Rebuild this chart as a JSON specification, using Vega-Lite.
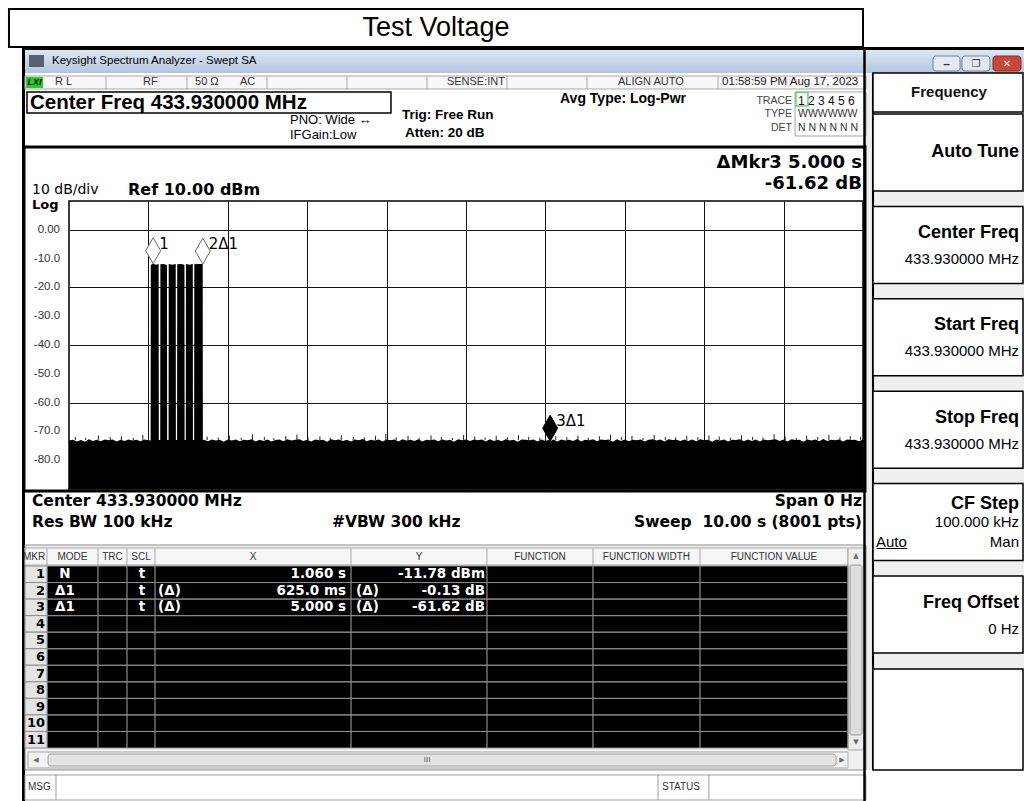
{
"$schema":"https://vega.github.io/schema/vega-lite/v6.json",
"width":794,"height":288,
"autosize":{"type":"none"},
"padding":{"left":69,"top":201,"right":161,"bottom":312},
"background":"white",
"config":{"font":"Liberation Sans","view":{"stroke":"black","strokeWidth":1.5},"axis":{"gridColor":"#111","gridOpacity":1,"gridWidth":1}},
"datasets":{
"one":[{}],
"yticks":[{"v":0,"label":"0.00"},{"v":-10,"label":"-10.0"},{"v":-20,"label":"-20.0"},{"v":-30,"label":"-30.0"},{"v":-40,"label":"-40.0"},{"v":-50,"label":"-50.0"},{"v":-60,"label":"-60.0"},{"v":-70,"label":"-70.0"},{"v":-80,"label":"-80.0"}],
"trace":[
{"t":0,"level":-73.2},{"t":0.05,"level":-72.9},{"t":0.1,"level":-73.5},{"t":0.15,"level":-73.0},{"t":0.2,"level":-73.6},{"t":0.25,"level":-72.7},{"t":0.3,"level":-73.3},{"t":0.35,"level":-72.9},{"t":0.4,"level":-73.4},{"t":0.45,"level":-72.8},{"t":0.5,"level":-73.1},{"t":0.55,"level":-72.8},{"t":0.6,"level":-73.5},{"t":0.65,"level":-72.9},{"t":0.7,"level":-73.3},{"t":0.75,"level":-72.8},{"t":0.8,"level":-73.2},{"t":0.85,"level":-72.9},{"t":0.9,"level":-73.4},{"t":0.95,"level":-72.8},{"t":1.0,"level":-73.1},
{"t":1.028,"level":-73.2},{"t":1.03,"level":-12.2},{"t":1.06,"level":-11.78},{"t":1.095,"level":-12.1},{"t":1.129,"level":-11.9},{"t":1.131,"level":-73.0},{"t":1.149,"level":-73.0},{"t":1.151,"level":-12.0},{"t":1.19,"level":-11.9},{"t":1.234,"level":-12.2},{"t":1.236,"level":-73.0},{"t":1.254,"level":-73.0},{"t":1.256,"level":-11.9},{"t":1.3,"level":-12.1},{"t":1.344,"level":-11.9},{"t":1.346,"level":-73.0},{"t":1.361,"level":-73.0},{"t":1.363,"level":-12.0},{"t":1.41,"level":-11.9},{"t":1.454,"level":-12.1},{"t":1.456,"level":-73.0},{"t":1.471,"level":-73.0},{"t":1.473,"level":-11.9},{"t":1.52,"level":-12.1},{"t":1.559,"level":-11.9},{"t":1.561,"level":-73.0},{"t":1.576,"level":-73.0},{"t":1.578,"level":-12.0},{"t":1.63,"level":-11.9},{"t":1.684,"level":-11.91},{"t":1.686,"level":-73.1},
{"t":1.7,"level":-72.9},{"t":1.75,"level":-73.4},{"t":1.8,"level":-72.8},{"t":1.85,"level":-73.2},{"t":1.9,"level":-72.9},{"t":1.95,"level":-73.6},{"t":2.0,"level":-72.8},{"t":2.05,"level":-73.2},{"t":2.1,"level":-72.8},{"t":2.15,"level":-73.4},{"t":2.2,"level":-72.9},{"t":2.25,"level":-73.1},{"t":2.3,"level":-72.7},{"t":2.35,"level":-73.5},{"t":2.4,"level":-72.9},{"t":2.45,"level":-73.3},{"t":2.5,"level":-72.8},{"t":2.55,"level":-73.5},{"t":2.6,"level":-73.0},{"t":2.65,"level":-72.8},{"t":2.7,"level":-73.4},{"t":2.75,"level":-72.7},{"t":2.8,"level":-73.2},{"t":2.85,"level":-72.9},{"t":2.9,"level":-72.7},{"t":2.95,"level":-73.3},
{"t":3.0,"level":-72.9},{"t":3.05,"level":-73.5},{"t":3.1,"level":-72.8},{"t":3.15,"level":-73.1},{"t":3.2,"level":-72.9},{"t":3.25,"level":-73.6},{"t":3.3,"level":-72.7},{"t":3.35,"level":-73.1},{"t":3.4,"level":-72.8},{"t":3.45,"level":-73.3},{"t":3.5,"level":-72.9},{"t":3.55,"level":-73.5},{"t":3.6,"level":-72.8},{"t":3.65,"level":-73.1},{"t":3.7,"level":-72.6},{"t":3.75,"level":-73.4},{"t":3.8,"level":-72.9},{"t":3.85,"level":-73.2},{"t":3.9,"level":-72.8},{"t":3.95,"level":-73.5},
{"t":4.0,"level":-72.8},{"t":4.05,"level":-73.1},{"t":4.1,"level":-72.8},{"t":4.15,"level":-73.5},{"t":4.2,"level":-72.7},{"t":4.25,"level":-73.2},{"t":4.3,"level":-72.9},{"t":4.35,"level":-73.3},{"t":4.4,"level":-72.7},{"t":4.45,"level":-73.5},{"t":4.5,"level":-72.9},{"t":4.55,"level":-73.1},{"t":4.6,"level":-72.8},{"t":4.65,"level":-73.4},{"t":4.7,"level":-72.8},{"t":4.75,"level":-73.2},{"t":4.8,"level":-72.9},{"t":4.85,"level":-73.6},{"t":4.9,"level":-72.7},{"t":4.95,"level":-73.1},
{"t":5.0,"level":-72.8},{"t":5.05,"level":-73.3},{"t":5.1,"level":-72.8},{"t":5.15,"level":-73.1},{"t":5.2,"level":-72.8},{"t":5.25,"level":-73.5},{"t":5.3,"level":-72.7},{"t":5.35,"level":-73.3},{"t":5.4,"level":-72.9},{"t":5.45,"level":-73.4},{"t":5.5,"level":-72.7},{"t":5.55,"level":-73.2},{"t":5.6,"level":-72.9},{"t":5.65,"level":-73.6},{"t":5.7,"level":-72.8},{"t":5.75,"level":-72.9},{"t":5.8,"level":-73.1},{"t":5.85,"level":-72.8},{"t":5.9,"level":-73.5},{"t":5.95,"level":-72.8},
{"t":6.0,"level":-73.3},{"t":6.05,"level":-72.9},{"t":6.06,"level":-73.4},{"t":6.1,"level":-72.8},{"t":6.15,"level":-73.5},{"t":6.2,"level":-72.8},{"t":6.25,"level":-73.2},{"t":6.3,"level":-72.9},{"t":6.35,"level":-73.3},{"t":6.4,"level":-72.6},{"t":6.45,"level":-73.5},{"t":6.5,"level":-72.9},{"t":6.55,"level":-73.1},{"t":6.6,"level":-72.7},{"t":6.65,"level":-73.4},{"t":6.7,"level":-72.8},{"t":6.75,"level":-73.0},{"t":6.8,"level":-72.8},{"t":6.85,"level":-73.6},{"t":6.9,"level":-72.7},{"t":6.95,"level":-73.3},
{"t":7.0,"level":-72.8},{"t":7.05,"level":-73.4},{"t":7.1,"level":-72.9},{"t":7.15,"level":-73.1},{"t":7.2,"level":-72.8},{"t":7.25,"level":-73.5},{"t":7.3,"level":-72.9},{"t":7.35,"level":-72.7},{"t":7.4,"level":-73.2},{"t":7.45,"level":-72.8},{"t":7.5,"level":-73.5},{"t":7.55,"level":-72.7},{"t":7.6,"level":-73.0},{"t":7.65,"level":-72.9},{"t":7.7,"level":-73.3},{"t":7.75,"level":-72.8},{"t":7.8,"level":-73.3},{"t":7.85,"level":-72.8},{"t":7.9,"level":-73.4},{"t":7.95,"level":-72.7},
{"t":8.0,"level":-73.1},{"t":8.05,"level":-72.9},{"t":8.1,"level":-73.6},{"t":8.15,"level":-72.8},{"t":8.2,"level":-73.2},{"t":8.25,"level":-72.8},{"t":8.3,"level":-73.5},{"t":8.35,"level":-72.9},{"t":8.4,"level":-73.0},{"t":8.45,"level":-72.7},{"t":8.5,"level":-73.4},{"t":8.55,"level":-72.8},{"t":8.6,"level":-73.3},{"t":8.65,"level":-72.8},{"t":8.7,"level":-73.5},{"t":8.75,"level":-72.8},{"t":8.8,"level":-73.1},{"t":8.85,"level":-72.9},{"t":8.9,"level":-72.7},{"t":8.95,"level":-73.3},
{"t":9.0,"level":-72.8},{"t":9.05,"level":-73.5},{"t":9.1,"level":-72.7},{"t":9.15,"level":-73.0},{"t":9.2,"level":-72.9},{"t":9.25,"level":-73.6},{"t":9.3,"level":-72.8},{"t":9.35,"level":-73.2},{"t":9.4,"level":-72.8},{"t":9.45,"level":-73.4},{"t":9.5,"level":-72.6},{"t":9.55,"level":-73.3},{"t":9.6,"level":-72.9},{"t":9.65,"level":-73.1},{"t":9.7,"level":-72.8},{"t":9.75,"level":-73.5},{"t":9.8,"level":-72.8},{"t":9.85,"level":-73.0},{"t":9.9,"level":-72.9},{"t":9.95,"level":-73.4},{"t":10.0,"level":-72.8}
],
"spikes":[
{"t":0.08,"level":-71.9},{"t":0.21,"level":-72.2},{"t":0.37,"level":-71.4},{"t":0.52,"level":-72.0},{"t":0.66,"level":-71.7},{"t":0.81,"level":-72.3},{"t":0.93,"level":-71.2},
{"t":1.74,"level":-71.8},{"t":1.88,"level":-72.1},{"t":2.02,"level":-71.5},{"t":2.17,"level":-72.2},{"t":2.31,"level":-71.0},{"t":2.46,"level":-71.9},{"t":2.58,"level":-72.3},{"t":2.73,"level":-71.6},{"t":2.87,"level":-71.1},
{"t":3.01,"level":-72.0},{"t":3.16,"level":-71.7},{"t":3.29,"level":-72.2},{"t":3.43,"level":-71.3},{"t":3.58,"level":-71.9},{"t":3.72,"level":-72.1},{"t":3.86,"level":-71.5},{"t":3.99,"level":-70.9},
{"t":4.12,"level":-72.0},{"t":4.27,"level":-71.6},{"t":4.41,"level":-72.2},{"t":4.56,"level":-71.4},{"t":4.69,"level":-71.9},{"t":4.83,"level":-72.3},{"t":4.97,"level":-71.2},
{"t":5.11,"level":-71.8},{"t":5.24,"level":-72.1},{"t":5.38,"level":-71.5},{"t":5.52,"level":-72.0},{"t":5.66,"level":-71.3},{"t":5.79,"level":-71.9},{"t":5.93,"level":-72.2},
{"t":6.13,"level":-71.6},{"t":6.27,"level":-72.0},{"t":6.41,"level":-71.4},{"t":6.54,"level":-72.2},{"t":6.68,"level":-71.7},{"t":6.82,"level":-71.1},{"t":6.96,"level":-72.0},
{"t":7.09,"level":-71.6},{"t":7.23,"level":-72.3},{"t":7.37,"level":-71.2},{"t":7.51,"level":-71.9},{"t":7.64,"level":-72.1},{"t":7.78,"level":-71.5},{"t":7.92,"level":-72.0},
{"t":8.06,"level":-71.4},{"t":8.19,"level":-71.8},{"t":8.33,"level":-72.2},{"t":8.47,"level":-71.3},{"t":8.61,"level":-71.9},{"t":8.74,"level":-72.1},{"t":8.88,"level":-71.0},
{"t":9.02,"level":-71.8},{"t":9.16,"level":-72.2},{"t":9.29,"level":-71.5},{"t":9.43,"level":-71.9},{"t":9.57,"level":-71.2},{"t":9.71,"level":-72.0},{"t":9.84,"level":-71.6},{"t":9.97,"level":-71.9}
],
"markers":[
{"label":"1","t":1.06,"level":-11.78,"active":false},
{"label":"2Δ1","t":1.685,"level":-11.91,"active":false},
{"label":"3Δ1","t":6.06,"level":-73.4,"active":true}
],
"table":[
{"mkr":1,"mode":"N","scl":"t","xpre":"","xval":"1.060 s","ypre":"","yval":"-11.78 dBm"},
{"mkr":2,"mode":"Δ1","scl":"t","xpre":"(Δ)","xval":"625.0 ms","ypre":"(Δ)","yval":"-0.13 dB"},
{"mkr":3,"mode":"Δ1","scl":"t","xpre":"(Δ)","xval":"5.000 s","ypre":"(Δ)","yval":"-61.62 dB"},
{"mkr":4,"mode":"","scl":"","xpre":"","xval":"","ypre":"","yval":""},
{"mkr":5,"mode":"","scl":"","xpre":"","xval":"","ypre":"","yval":""},
{"mkr":6,"mode":"","scl":"","xpre":"","xval":"","ypre":"","yval":""},
{"mkr":7,"mode":"","scl":"","xpre":"","xval":"","ypre":"","yval":""},
{"mkr":8,"mode":"","scl":"","xpre":"","xval":"","ypre":"","yval":""},
{"mkr":9,"mode":"","scl":"","xpre":"","xval":"","ypre":"","yval":""},
{"mkr":10,"mode":"","scl":"","xpre":"","xval":"","ypre":"","yval":""},
{"mkr":11,"mode":"","scl":"","xpre":"","xval":"","ypre":"","yval":""}
],
"keys":[
{"key":"Auto Tune","value":"","lines":1,"optA":"","optB":""},
{"key":"Center Freq","value":"433.930000 MHz","lines":2,"optA":"","optB":""},
{"key":"Start Freq","value":"433.930000 MHz","lines":2,"optA":"","optB":""},
{"key":"Stop Freq","value":"433.930000 MHz","lines":2,"optA":"","optB":""},
{"key":"CF Step","value":"100.000 kHz","lines":3,"optA":"A\u0332u\u0332t\u0332o\u0332","optB":"Man"},
{"key":"Freq Offset","value":"0 Hz","lines":2,"optA":"","optB":""}
]
},
"layer":[
{
"layer":[
{"data":{"name":"trace"},"mark":{"type":"area","color":"black","interpolate":"linear"},"encoding":{
 "x":{"field":"t","type":"quantitative","scale":{"domain":[0,10],"nice":false,"zero":false},"axis":{"title":null,"values":[1,2,3,4,5,6,7,8,9],"labels":false,"ticks":false,"domain":false,"grid":true}},
 "y":{"field":"level","type":"quantitative","scale":{"domain":[-90,10],"nice":false,"zero":false},"axis":{"title":null,"values":[0,-10,-20,-30,-40,-50,-60,-70,-80],"labels":false,"ticks":false,"domain":false,"grid":true}},
 "y2":{"datum":-90}}},
{"data":{"name":"spikes"},"mark":{"type":"rule","color":"#222","strokeWidth":1},"encoding":{"x":{"field":"t","type":"quantitative"},"y":{"field":"level","type":"quantitative"},"y2":{"datum":-73}}},
{"data":{"name":"yticks"},"mark":{"type":"text","align":"right","baseline":"middle","fontSize":11.5,"color":"#333"},"encoding":{"x":{"datum":-0.113},"y":{"field":"v","type":"quantitative"},"text":{"field":"label"}}},
{"data":{"name":"one"},"mark":{"type":"rect","fill":"white","stroke":"black","strokeWidth":2},"encoding":{"x":{"datum":-0.756},"x2":{"datum":10.0},"y":{"datum":76.667},"y2":{"datum":63.472}}},
{"data":{"name":"one"},"mark":{"type":"rect","fill":"#efefef"},"encoding":{"x":{"datum":10.038},"x2":{"datum":12.028},"y":{"datum":54.444},"y2":{"datum":-187.569}}},
{"data":{"name":"one"},"mark":{"type":"rect","fill":{"gradient":"linear","x1":0,"y1":0,"x2":0,"y2":1,"stops":[{"offset":0,"color":"#dde7f3"},{"offset":1,"color":"#b2c6de"}]}},"encoding":{"x":{"datum":-0.554},"x2":{"datum":12.028},"y":{"datum":62.431},"y2":{"datum":54.444}}},
{"data":{"name":"one"},"mark":{"type":"rect","fill":"black"},"encoding":{"x":{"datum":-0.592},"x2":{"datum":12.028},"y":{"datum":63.472},"y2":{"datum":62.431}}},
{"data":{"name":"one"},"mark":{"type":"rect","fill":"black"},"encoding":{"x":{"datum":-0.592},"x2":{"datum":-0.554},"y":{"datum":63.472},"y2":{"datum":-198.333}}},
{"data":{"name":"one"},"mark":{"type":"rect","fill":"#f8f8f8","stroke":"#a8a8a8","strokeWidth":1},"encoding":{"x":{"datum":-0.554},"x2":{"datum":10.038},"y":{"datum":53.403},"y2":{"datum":48.889}}},
{"data":{"name":"one"},"mark":{"type":"rule","color":"#a8a8a8"},"encoding":{"x":{"datum":0.466},"y":{"datum":53.403},"y2":{"datum":48.889}}},
{"data":{"name":"one"},"mark":{"type":"rule","color":"#a8a8a8"},"encoding":{"x":{"datum":1.486},"y":{"datum":53.403},"y2":{"datum":48.889}}},
{"data":{"name":"one"},"mark":{"type":"rule","color":"#a8a8a8"},"encoding":{"x":{"datum":2.494},"y":{"datum":53.403},"y2":{"datum":48.889}}},
{"data":{"name":"one"},"mark":{"type":"rule","color":"#a8a8a8"},"encoding":{"x":{"datum":3.501},"y":{"datum":53.403},"y2":{"datum":48.889}}},
{"data":{"name":"one"},"mark":{"type":"rule","color":"#a8a8a8"},"encoding":{"x":{"datum":4.509},"y":{"datum":53.403},"y2":{"datum":48.889}}},
{"data":{"name":"one"},"mark":{"type":"rule","color":"#a8a8a8"},"encoding":{"x":{"datum":5.516},"y":{"datum":53.403},"y2":{"datum":48.889}}},
{"data":{"name":"one"},"mark":{"type":"rule","color":"#a8a8a8"},"encoding":{"x":{"datum":6.524},"y":{"datum":53.403},"y2":{"datum":48.889}}},
{"data":{"name":"one"},"mark":{"type":"rule","color":"#a8a8a8"},"encoding":{"x":{"datum":8.174},"y":{"datum":53.403},"y2":{"datum":48.889}}},
{"data":{"name":"one"},"mark":{"type":"rect","fill":"#1fd01f"},"encoding":{"x":{"datum":-0.542},"x2":{"datum":-0.327},"y":{"datum":53.056},"y2":{"datum":49.236}}},
{"data":{"name":"one"},"mark":{"type":"rect","fill":"#5a6070"},"encoding":{"x":{"datum":-0.504},"x2":{"datum":-0.315},"y":{"datum":60.694},"y2":{"datum":56.528}}},
{"data":{"name":"one"},"mark":{"type":"rect","fill":"#e3eaf3","stroke":"#71839c","cornerRadius":3},"encoding":{"x":{"datum":10.882},"x2":{"datum":11.222},"y":{"datum":60.347},"y2":{"datum":55.139}}},
{"data":{"name":"one"},"mark":{"type":"rect","fill":"#e3eaf3","stroke":"#71839c","cornerRadius":3},"encoding":{"x":{"datum":11.247},"x2":{"datum":11.599},"y":{"datum":60.347},"y2":{"datum":55.139}}},
{"data":{"name":"one"},"mark":{"type":"rect","fill":"#c9463a","stroke":"#8d2c22","cornerRadius":3},"encoding":{"x":{"datum":11.637},"x2":{"datum":11.99},"y":{"datum":60.347},"y2":{"datum":55.139}}},
{"data":{"name":"one"},"mark":{"type":"rect","fill":"white","stroke":"black","strokeWidth":1.5},"encoding":{"x":{"datum":-0.529},"x2":{"datum":4.055},"y":{"datum":47.847},"y2":{"datum":40.556}}},
{"data":{"name":"one"},"mark":{"type":"rect","filled":false,"stroke":"#a0a0a0"},"encoding":{"x":{"datum":9.144},"x2":{"datum":10.038},"y":{"datum":47.847},"y2":{"datum":32.569}}},
{"data":{"name":"one"},"mark":{"type":"rect","filled":false,"stroke":"#6bd36b","strokeWidth":1.5},"encoding":{"x":{"datum":9.156},"x2":{"datum":9.307},"y":{"datum":47.674},"y2":{"datum":42.986}}},
{"data":{"name":"one"},"mark":{"type":"rect","filled":false,"stroke":"black","strokeWidth":3},"encoding":{"x":{"datum":-0.567},"x2":{"datum":10.025},"y":{"datum":28.75},"y2":{"datum":-90.694}}},
{"data":{"name":"one"},"mark":{"type":"rect","fill":"#f0f0f0","stroke":"#8c8c8c"},"encoding":{"x":{"datum":-0.554},"x2":{"datum":10.038},"y":{"datum":-109.444},"y2":{"datum":-187.569}}},
{"data":{"name":"one"},"mark":{"type":"rect","fill":"#f6f6f6","stroke":"#a8a8a8"},"encoding":{"x":{"datum":-0.554},"x2":{"datum":9.811},"y":{"datum":-110.486},"y2":{"datum":-116.389}}},
{"data":{"name":"one"},"mark":{"type":"rect","fill":"black"},"encoding":{"x":{"datum":-0.277},"x2":{"datum":9.811},"y":{"datum":-116.736},"y2":{"datum":-179.931}}},
{"data":{"name":"one"},"mark":{"type":"rule","color":"#a8a8a8"},"encoding":{"x":{"datum":-0.277},"y":{"datum":-110.486},"y2":{"datum":-116.389}}},
{"data":{"name":"one"},"mark":{"type":"rule","color":"#a8a8a8"},"encoding":{"x":{"datum":0.365},"y":{"datum":-110.486},"y2":{"datum":-179.931}}},
{"data":{"name":"one"},"mark":{"type":"rule","color":"#a8a8a8"},"encoding":{"x":{"datum":0.73},"y":{"datum":-110.486},"y2":{"datum":-179.931}}},
{"data":{"name":"one"},"mark":{"type":"rule","color":"#a8a8a8"},"encoding":{"x":{"datum":1.083},"y":{"datum":-110.486},"y2":{"datum":-179.931}}},
{"data":{"name":"one"},"mark":{"type":"rule","color":"#a8a8a8"},"encoding":{"x":{"datum":3.552},"y":{"datum":-110.486},"y2":{"datum":-179.931}}},
{"data":{"name":"one"},"mark":{"type":"rule","color":"#a8a8a8"},"encoding":{"x":{"datum":5.264},"y":{"datum":-110.486},"y2":{"datum":-179.931}}},
{"data":{"name":"one"},"mark":{"type":"rule","color":"#a8a8a8"},"encoding":{"x":{"datum":6.599},"y":{"datum":-110.486},"y2":{"datum":-179.931}}},
{"data":{"name":"one"},"mark":{"type":"rule","color":"#a8a8a8"},"encoding":{"x":{"datum":7.947},"y":{"datum":-110.486},"y2":{"datum":-179.931}}},
{"data":{"name":"one"},"mark":{"type":"rect","fill":"#ededed","stroke":"#a8a8a8"},"encoding":{"x":{"datum":9.811},"x2":{"datum":10.013},"y":{"datum":-110.486},"y2":{"datum":-180.625}}},
{"data":{"name":"one"},"mark":{"type":"rect","fill":"#dcdcdc","stroke":"#9a9a9a","cornerRadius":2},"encoding":{"x":{"datum":9.836},"x2":{"datum":9.987},"y":{"datum":-116.389},"y2":{"datum":-175.417}}},
{"data":{"name":"one"},"mark":{"type":"rect","fill":"#f2f2f2","stroke":"#a8a8a8"},"encoding":{"x":{"datum":-0.516},"x2":{"datum":9.811},"y":{"datum":-181.319},"y2":{"datum":-186.875}}},
{"data":{"name":"one"},"mark":{"type":"rect","fill":"#e2e2e2","stroke":"#a0a0a0","cornerRadius":3},"encoding":{"x":{"datum":-0.264},"x2":{"datum":9.66},"y":{"datum":-182.014},"y2":{"datum":-186.181}}},
{"data":{"name":"one"},"mark":{"type":"rect","fill":"white","stroke":"#a0a0a0"},"encoding":{"x":{"datum":-0.554},"x2":{"datum":10.038},"y":{"datum":-189.306},"y2":{"datum":-197.986}}},
{"data":{"name":"one"},"mark":{"type":"rule","color":"#a0a0a0"},"encoding":{"x":{"datum":-0.164},"y":{"datum":-189.306},"y2":{"datum":-197.986}}},
{"data":{"name":"one"},"mark":{"type":"rule","color":"#a0a0a0"},"encoding":{"x":{"datum":7.418},"y":{"datum":-189.306},"y2":{"datum":-197.986}}},
{"data":{"name":"one"},"mark":{"type":"rule","color":"#a0a0a0"},"encoding":{"x":{"datum":8.06},"y":{"datum":-189.306},"y2":{"datum":-197.986}}},
{"data":{"name":"one"},"mark":{"type":"rect","fill":"black"},"encoding":{"x":{"datum":10.113},"x2":{"datum":10.139},"y":{"datum":54.444},"y2":{"datum":-187.569}}},
{"data":{"name":"one"},"mark":{"type":"rect","fill":"white","stroke":"black","strokeWidth":1.5},"encoding":{"x":{"datum":10.126},"x2":{"datum":12.015},"y":{"datum":54.444},"y2":{"datum":40.903}}},
{"data":{"name":"one"},"mark":{"type":"rect","fill":"white","stroke":"black","strokeWidth":1.5},"encoding":{"x":{"datum":10.126},"x2":{"datum":12.015},"y":{"datum":-152.5},"y2":{"datum":-187.569}}},
{"data":{"name":"one"},"mark":{"type":"rule","color":"black","strokeWidth":2.5},"encoding":{"x":{"datum":10.019},"y":{"datum":63.472},"y2":{"datum":-198.333}}},
{"data":{"name":"markers"},"mark":{"type":"point","shape":"M0,-2L0.577,-1L0,0L-0.577,-1Z","size":676,"filled":true,"strokeWidth":1,"opacity":1},"encoding":{"x":{"field":"t","type":"quantitative"},"y":{"field":"level","type":"quantitative"},"fill":{"condition":{"test":"datum.active","value":"black"},"value":"white"},"stroke":{"condition":{"test":"datum.active","value":"black"},"value":"#666"}}},
{"data":{"name":"markers"},"mark":{"type":"text","align":"left","baseline":"alphabetic","dx":6,"dy":-15,"font":"DejaVu Sans","fontSize":15,"color":"black"},"encoding":{"x":{"field":"t","type":"quantitative"},"y":{"field":"level","type":"quantitative"},"text":{"field":"label"}}},
{"data":{"name":"one"},"mark":{"type":"text","text":"Test Voltage","fontSize":27,"align":"center","baseline":"middle","color":"black"},"encoding":{"x":{"datum":4.622},"y":{"datum":70.069}}},
{"data":{"name":"one"},"mark":{"type":"text","text":"Keysight Spectrum Analyzer - Swept SA","fontSize":11.5,"align":"left","baseline":"middle","color":"black"},"encoding":{"x":{"datum":-0.214},"y":{"datum":58.611}}},
{"data":{"name":"one"},"mark":{"type":"text","text":"LXI","fontSize":9,"fontWeight":"bold","fontStyle":"italic","align":"center","baseline":"middle","color":"black"},"encoding":{"x":{"datum":-0.434},"y":{"datum":51.146}}},
{"data":{"name":"one"},"mark":{"type":"text","text":"R L","fontSize":11,"align":"left","baseline":"middle","color":"#333"},"encoding":{"x":{"datum":-0.176},"y":{"datum":51.146}}},
{"data":{"name":"one"},"mark":{"type":"text","text":"RF","fontSize":11,"align":"left","baseline":"middle","color":"#333"},"encoding":{"x":{"datum":0.932},"y":{"datum":51.146}}},
{"data":{"name":"one"},"mark":{"type":"text","text":"50 Ω","fontSize":11,"align":"left","baseline":"middle","color":"#333"},"encoding":{"x":{"datum":1.587},"y":{"datum":51.146}}},
{"data":{"name":"one"},"mark":{"type":"text","text":"AC","fontSize":11,"align":"left","baseline":"middle","color":"#333"},"encoding":{"x":{"datum":2.154},"y":{"datum":51.146}}},
{"data":{"name":"one"},"mark":{"type":"text","text":"SENSE:INT","fontSize":11,"align":"right","baseline":"middle","color":"#333"},"encoding":{"x":{"datum":5.491},"y":{"datum":51.146}}},
{"data":{"name":"one"},"mark":{"type":"text","text":"ALIGN AUTO","fontSize":11,"align":"left","baseline":"middle","color":"#333"},"encoding":{"x":{"datum":6.914},"y":{"datum":51.146}}},
{"data":{"name":"one"},"mark":{"type":"text","text":"01:58:59 PM Aug 17, 2023","fontSize":11.5,"align":"left","baseline":"middle","color":"#222"},"encoding":{"x":{"datum":8.224},"y":{"datum":51.146}}},
{"data":{"name":"one"},"mark":{"type":"text","text":"Center Freq 433.930000 MHz","fontSize":20.5,"fontWeight":"bold","align":"left","baseline":"middle","color":"black"},"encoding":{"x":{"datum":-0.491},"y":{"datum":44.201}}},
{"data":{"name":"one"},"mark":{"type":"text","text":"PNO: Wide ↔","fontSize":13,"align":"left","baseline":"middle","color":"black"},"encoding":{"x":{"datum":2.783},"y":{"datum":38.125}}},
{"data":{"name":"one"},"mark":{"type":"text","text":"IFGain:Low","fontSize":13,"align":"left","baseline":"middle","color":"black"},"encoding":{"x":{"datum":2.783},"y":{"datum":32.917}}},
{"data":{"name":"one"},"mark":{"type":"text","text":"Trig: Free Run","fontSize":13.5,"fontWeight":"bold","align":"left","baseline":"middle","color":"black"},"encoding":{"x":{"datum":4.194},"y":{"datum":39.861}}},
{"data":{"name":"one"},"mark":{"type":"text","text":"Atten: 20 dB","fontSize":13.5,"fontWeight":"bold","align":"left","baseline":"middle","color":"black"},"encoding":{"x":{"datum":4.232},"y":{"datum":33.611}}},
{"data":{"name":"one"},"mark":{"type":"text","text":"Avg Type: Log-Pwr","fontSize":14,"fontWeight":"bold","align":"left","baseline":"middle","color":"black"},"encoding":{"x":{"datum":6.184},"y":{"datum":45.59}}},
{"data":{"name":"one"},"mark":{"type":"text","text":"TRACE","fontSize":10.5,"align":"right","baseline":"middle","color":"#444"},"encoding":{"x":{"datum":9.106},"y":{"datum":44.722}}},
{"data":{"name":"one"},"mark":{"type":"text","text":"TYPE","fontSize":10.5,"align":"right","baseline":"middle","color":"#444"},"encoding":{"x":{"datum":9.106},"y":{"datum":40.21}}},
{"data":{"name":"one"},"mark":{"type":"text","text":"DET","fontSize":10.5,"align":"right","baseline":"middle","color":"#444"},"encoding":{"x":{"datum":9.106},"y":{"datum":35.174}}},
{"data":{"name":"one"},"mark":{"type":"text","text":"1 2 3 4 5 6","fontSize":12,"align":"left","baseline":"middle","color":"#111"},"encoding":{"x":{"datum":9.181},"y":{"datum":44.722}}},
{"data":{"name":"one"},"mark":{"type":"text","text":"WWWWWW","fontSize":10.5,"align":"left","baseline":"middle","color":"#333"},"encoding":{"x":{"datum":9.181},"y":{"datum":40.21}}},
{"data":{"name":"one"},"mark":{"type":"text","text":"N N N N N N","fontSize":10.5,"align":"left","baseline":"middle","color":"#333"},"encoding":{"x":{"datum":9.181},"y":{"datum":35.174}}},
{"data":{"name":"one"},"mark":{"type":"text","text":"10 dB/div","font":"DejaVu Sans","fontSize":14,"align":"left","baseline":"middle","color":"black"},"encoding":{"x":{"datum":-0.466},"y":{"datum":13.819}}},
{"data":{"name":"one"},"mark":{"type":"text","text":"Log","font":"DejaVu Sans","fontWeight":"bold","fontSize":13,"align":"left","baseline":"middle","color":"black"},"encoding":{"x":{"datum":-0.466},"y":{"datum":8.438}}},
{"data":{"name":"one"},"mark":{"type":"text","text":"Ref 10.00 dBm","font":"DejaVu Sans","fontWeight":"bold","fontSize":16,"align":"left","baseline":"middle","color":"black"},"encoding":{"x":{"datum":0.743},"y":{"datum":13.819}}},
{"data":{"name":"one"},"mark":{"type":"text","text":"ΔMkr3 5.000 s","font":"DejaVu Sans","fontWeight":"bold","fontSize":18,"align":"right","baseline":"middle","color":"black"},"encoding":{"x":{"datum":9.987},"y":{"datum":23.194}}},
{"data":{"name":"one"},"mark":{"type":"text","text":"-61.62 dB","font":"DejaVu Sans","fontWeight":"bold","fontSize":18,"align":"right","baseline":"middle","color":"black"},"encoding":{"x":{"datum":9.987},"y":{"datum":15.903}}},
{"data":{"name":"one"},"mark":{"type":"text","text":"Center 433.930000 MHz","font":"DejaVu Sans","fontWeight":"bold","fontSize":15.5,"align":"left","baseline":"middle","color":"black"},"encoding":{"x":{"datum":-0.466},"y":{"datum":-94.167}}},
{"data":{"name":"one"},"mark":{"type":"text","text":"Res BW 100 kHz","font":"DejaVu Sans","fontWeight":"bold","fontSize":15.5,"align":"left","baseline":"middle","color":"black"},"encoding":{"x":{"datum":-0.466},"y":{"datum":-101.458}}},
{"data":{"name":"one"},"mark":{"type":"text","text":"#VBW 300 kHz","font":"DejaVu Sans","fontWeight":"bold","fontSize":15.5,"align":"left","baseline":"middle","color":"black"},"encoding":{"x":{"datum":3.312},"y":{"datum":-101.458}}},
{"data":{"name":"one"},"mark":{"type":"text","text":"Span 0 Hz","font":"DejaVu Sans","fontWeight":"bold","fontSize":15.5,"align":"right","baseline":"middle","color":"black"},"encoding":{"x":{"datum":9.987},"y":{"datum":-94.167}}},
{"data":{"name":"one"},"mark":{"type":"text","text":"Sweep\u00a0 10.00 s (8001 pts)","font":"DejaVu Sans","fontWeight":"bold","fontSize":15.5,"align":"right","baseline":"middle","color":"black"},"encoding":{"x":{"datum":9.987},"y":{"datum":-101.458}}},
{"data":{"name":"one"},"mark":{"type":"text","text":"MKR","fontSize":10,"align":"center","baseline":"middle","color":"#333"},"encoding":{"x":{"datum":-0.44},"y":{"datum":-113.438}}},
{"data":{"name":"one"},"mark":{"type":"text","text":"MODE","fontSize":10,"align":"center","baseline":"middle","color":"#333"},"encoding":{"x":{"datum":0.044},"y":{"datum":-113.438}}},
{"data":{"name":"one"},"mark":{"type":"text","text":"TRC","fontSize":10,"align":"center","baseline":"middle","color":"#333"},"encoding":{"x":{"datum":0.548},"y":{"datum":-113.438}}},
{"data":{"name":"one"},"mark":{"type":"text","text":"SCL","fontSize":10,"align":"center","baseline":"middle","color":"#333"},"encoding":{"x":{"datum":0.907},"y":{"datum":-113.438}}},
{"data":{"name":"one"},"mark":{"type":"text","text":"X","fontSize":10,"align":"center","baseline":"middle","color":"#333"},"encoding":{"x":{"datum":2.317},"y":{"datum":-113.438}}},
{"data":{"name":"one"},"mark":{"type":"text","text":"Y","fontSize":10,"align":"center","baseline":"middle","color":"#333"},"encoding":{"x":{"datum":4.408},"y":{"datum":-113.438}}},
{"data":{"name":"one"},"mark":{"type":"text","text":"FUNCTION","fontSize":10,"align":"center","baseline":"middle","color":"#333"},"encoding":{"x":{"datum":5.932},"y":{"datum":-113.438}}},
{"data":{"name":"one"},"mark":{"type":"text","text":"FUNCTION WIDTH","fontSize":10,"align":"center","baseline":"middle","color":"#333"},"encoding":{"x":{"datum":7.273},"y":{"datum":-113.438}}},
{"data":{"name":"one"},"mark":{"type":"text","text":"FUNCTION VALUE","fontSize":10,"align":"center","baseline":"middle","color":"#333"},"encoding":{"x":{"datum":8.879},"y":{"datum":-113.438}}},
{"data":{"name":"one"},"mark":{"type":"text","text":"▲","font":"DejaVu Sans","fontSize":7,"align":"center","baseline":"middle","color":"#666"},"encoding":{"x":{"datum":9.912},"y":{"datum":-113.264}}},
{"data":{"name":"one"},"mark":{"type":"text","text":"▼","font":"DejaVu Sans","fontSize":7,"align":"center","baseline":"middle","color":"#666"},"encoding":{"x":{"datum":9.912},"y":{"datum":-177.847}}},
{"data":{"name":"one"},"mark":{"type":"text","text":"◀","font":"DejaVu Sans","fontSize":7,"align":"center","baseline":"middle","color":"#666"},"encoding":{"x":{"datum":-0.416},"y":{"datum":-184.097}}},
{"data":{"name":"one"},"mark":{"type":"text","text":"▶","font":"DejaVu Sans","fontSize":7,"align":"center","baseline":"middle","color":"#666"},"encoding":{"x":{"datum":9.736},"y":{"datum":-184.097}}},
{"data":{"name":"one"},"mark":{"type":"text","text":"III","fontSize":8,"align":"center","baseline":"middle","color":"#555"},"encoding":{"x":{"datum":4.509},"y":{"datum":-184.097}}},
{"data":{"name":"one"},"mark":{"type":"text","text":"MSG","fontSize":10,"align":"left","baseline":"middle","color":"#333"},"encoding":{"x":{"datum":-0.516},"y":{"datum":-193.472}}},
{"data":{"name":"one"},"mark":{"type":"text","text":"STATUS","fontSize":10,"align":"left","baseline":"middle","color":"#333"},"encoding":{"x":{"datum":7.469},"y":{"datum":-193.472}}},
{"data":{"name":"one"},"mark":{"type":"text","text":"Frequency","fontSize":15,"fontWeight":"bold","align":"center","baseline":"middle","color":"#111"},"encoding":{"x":{"datum":11.083},"y":{"datum":47.674}}},
{"data":{"name":"one"},"mark":{"type":"text","text":"–","fontSize":12,"fontWeight":"bold","align":"center","baseline":"middle","color":"#334"},"encoding":{"x":{"datum":11.052},"y":{"datum":57.743}}},
{"data":{"name":"one"},"mark":{"type":"text","text":"❐","font":"DejaVu Sans","fontSize":10,"align":"center","baseline":"middle","color":"#334"},"encoding":{"x":{"datum":11.423},"y":{"datum":57.743}}},
{"data":{"name":"one"},"mark":{"type":"text","text":"✕","font":"DejaVu Sans","fontSize":10,"fontWeight":"bold","align":"center","baseline":"middle","color":"white"},"encoding":{"x":{"datum":11.814},"y":{"datum":57.743}}}
]
},
{
"data":{"name":"table"},
"encoding":{"y":{"field":"mkr","type":"ordinal","scale":{"type":"band","domain":[1,2,3,4,5,6,7,8,9,10,11],"range":[365,547],"paddingInner":0,"paddingOuter":0},"axis":null}},
"layer":[
{"mark":{"type":"rect","filled":false,"stroke":"#8c8c8c","strokeWidth":1},"encoding":{"x":{"datum":-0.277},"x2":{"datum":9.811}}},
{"mark":{"type":"rect","fill":"#e4e4e4","stroke":"#8c8c8c","strokeWidth":1},"encoding":{"x":{"datum":-0.554},"x2":{"datum":-0.277}}},
{"mark":{"type":"text","align":"right","baseline":"middle","font":"DejaVu Sans","fontWeight":"bold","fontSize":13,"color":"black"},"encoding":{"x":{"datum":-0.302},"text":{"field":"mkr","type":"nominal"}}},
{"mark":{"type":"text","align":"center","baseline":"middle","font":"DejaVu Sans","fontWeight":"bold","fontSize":13.5,"color":"white"},"encoding":{"x":{"datum":-0.05},"text":{"field":"mode"}}},
{"mark":{"type":"text","align":"center","baseline":"middle","font":"DejaVu Sans","fontWeight":"bold","fontSize":13.5,"color":"white"},"encoding":{"x":{"datum":0.919},"text":{"field":"scl"}}},
{"mark":{"type":"text","align":"left","baseline":"middle","font":"DejaVu Sans","fontWeight":"bold","fontSize":13.5,"color":"white"},"encoding":{"x":{"datum":1.121},"text":{"field":"xpre"}}},
{"mark":{"type":"text","align":"right","baseline":"middle","font":"DejaVu Sans","fontWeight":"bold","fontSize":13.5,"color":"white"},"encoding":{"x":{"datum":3.489},"text":{"field":"xval"}}},
{"mark":{"type":"text","align":"left","baseline":"middle","font":"DejaVu Sans","fontWeight":"bold","fontSize":13.5,"color":"white"},"encoding":{"x":{"datum":3.615},"text":{"field":"ypre"}}},
{"mark":{"type":"text","align":"right","baseline":"middle","font":"DejaVu Sans","fontWeight":"bold","fontSize":13.5,"color":"white"},"encoding":{"x":{"datum":5.239},"text":{"field":"yval"}}}
]
},
{
"data":{"name":"keys"},
"encoding":{"y":{"field":"key","type":"nominal","scale":{"type":"band","domain":["Auto Tune","Center Freq","Start Freq","Stop Freq","CF Step","Freq Offset"],"range":[-87,452],"paddingInner":0.1667,"paddingOuter":0},"axis":null}},
"layer":[
{"mark":{"type":"rect","fill":"white","stroke":"black","strokeWidth":1.5},"encoding":{"x":{"datum":10.126},"x2":{"datum":12.015}}},
{"transform":[{"filter":"datum.lines == 1"}],"mark":{"type":"text","align":"right","baseline":"middle","fontWeight":"bold","fontSize":18,"color":"black"},"encoding":{"x":{"datum":11.965},"text":{"field":"key"}}},
{"transform":[{"filter":"datum.lines == 2"}],"mark":{"type":"text","align":"right","baseline":"middle","fontWeight":"bold","fontSize":18,"color":"black","dy":-12},"encoding":{"x":{"datum":11.965},"text":{"field":"key"}}},
{"transform":[{"filter":"datum.lines == 3"}],"mark":{"type":"text","align":"right","baseline":"middle","fontWeight":"bold","fontSize":18,"color":"black","dy":-18},"encoding":{"x":{"datum":11.965},"text":{"field":"key"}}},
{"transform":[{"filter":"datum.lines == 2"}],"mark":{"type":"text","align":"right","baseline":"middle","fontSize":15,"color":"black","dy":14},"encoding":{"x":{"datum":11.965},"text":{"field":"value"}}},
{"transform":[{"filter":"datum.lines == 3"}],"mark":{"type":"text","align":"right","baseline":"middle","fontSize":15,"color":"black","dy":0},"encoding":{"x":{"datum":11.965},"text":{"field":"value"}}},
{"transform":[{"filter":"datum.lines == 3"}],"mark":{"type":"text","align":"left","baseline":"middle","fontSize":15,"color":"black","dy":20},"encoding":{"x":{"datum":10.164},"text":{"field":"optA"}}},
{"transform":[{"filter":"datum.lines == 3"}],"mark":{"type":"text","align":"right","baseline":"middle","fontSize":15,"color":"black","dy":20},"encoding":{"x":{"datum":11.965},"text":{"field":"optB"}}}
]
}
],
"resolve":{"scale":{"y":"independent"}}
}
